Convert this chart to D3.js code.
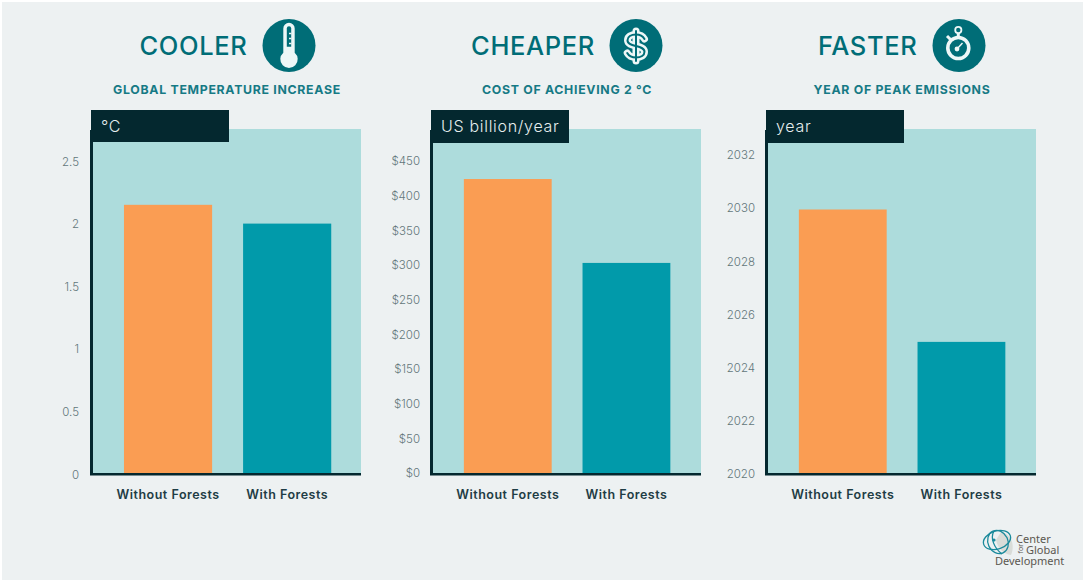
<!DOCTYPE html>
<html><head><meta charset="utf-8">
<script src="https://cdn.jsdelivr.net/npm/d3@7/dist/d3.min.js"></script>
<style>html,body{margin:0;padding:0;background:#fff}svg{display:block}
text{font-family:Inter,"Open Sans",sans-serif}</style></head><body>
<svg id="c" width="1083" height="581"></svg>
<script>
const categories = ["Without Forests", "With Forests"];
const barColors = ["#fa9d53", "#019aaa"];
const titles = ["COOLER", "CHEAPER", "FASTER"];
const subtitles = ["GLOBAL TEMPERATURE INCREASE", "COST OF ACHIEVING 2 °C", "YEAR OF PEAK EMISSIONS"];
const units = ["°C", "US billion/year", "year"];
const temperatureValues = [2.15, 2.0];
const costValues = [424, 303];
const yearValues = [2029.95, 2024.97];
const temperatureTicks = [0, 0.5, 1, 1.5, 2, 2.5];
const costTicks = [0, 50, 100, 150, 200, 250, 300, 350, 400, 450];
const yearTicks = [2020, 2022, 2024, 2026, 2028, 2030, 2032];

const svg = d3.select("#c");
svg.append("rect").attr("x", 2).attr("y", 2).attr("width", 1081).attr("height", 578).attr("fill", "#edf1f2");

const DARK = "#04282f", TEAL = "#006d77", SUB = "#167a85", PLOT = "#addcdc", ICON = "#edf7f7";

function panel(o) {
  const g = svg.append("g");
  const top = 129, bottom = 473.5;
  const y = d3.scaleLinear().domain(o.domain).range([o.y0, o.y1]);
  const x = d3.scaleBand().domain(categories).range([o.left, o.left + o.bandW]).paddingInner(0.26).paddingOuter(0.255).align(0.51);
  g.append("rect").attr("x", o.left).attr("y", top).attr("width", 268).attr("height", bottom - top).attr("fill", PLOT);
  g.selectAll("rect.bar").data(o.values).join("rect").attr("class", "bar")
    .attr("x", (d, i) => x(categories[i])).attr("width", x.bandwidth())
    .attr("y", d => y(d)).attr("height", d => bottom - y(d))
    .attr("fill", (d, i) => barColors[i]);
  // y axis
  const ya = g.append("g").attr("transform", `translate(${o.left - 2},${o.tickDy})`)
    .call(d3.axisLeft(y).tickValues(o.ticks).tickSize(0).tickPadding(o.pad).tickFormat(o.fmt));
  ya.select(".domain").remove();
  ya.selectAll("text").attr("fill", "#62767a").style("font-size", "11.5px").style("font-weight", 300)
    .style("font-family", "Inter,sans-serif");
  // axis lines
  g.append("line").attr("x1", o.left - 1.5).attr("x2", o.left - 1.5).attr("y1", 130).attr("y2", 475).attr("stroke", DARK).attr("stroke-width", 3);
  g.append("line").attr("x1", o.left - 3).attr("x2", o.left + 268).attr("y1", 474.2).attr("y2", 474.2).attr("stroke", DARK).attr("stroke-width", 2.5);
  // x axis
  const xa = g.append("g").attr("transform", "translate(0,475)").call(d3.axisBottom(x).tickSize(0).tickPadding(15));
  xa.select(".domain").remove();
  xa.selectAll("text").attr("fill", "#1f3d45").style("font-size", "12.5px").style("font-weight", 600)
    .style("font-family", "Inter,sans-serif").style("letter-spacing", "0.5px");
  // unit box
  g.append("rect").attr("x", o.left - 2).attr("y", 110).attr("width", 138).attr("height", o.boxH).attr("fill", DARK);
  g.append("text").attr("x", o.left + 8).attr("y", 132).attr("fill", "#e6eeee").style("font-size", "16px").style("font-weight", 300).style("letter-spacing", "0.7px").text(o.unit);
  // headings
  g.append("text").attr("x", o.titleEnd).attr("y", 54.5).attr("text-anchor", "end").attr("fill", TEAL)
    .style("font-size", "25.5px").style("font-weight", 500).style("letter-spacing", "0.65px").text(o.title);
  g.append("text").attr("x", o.subX).attr("y", 94).attr("text-anchor", "middle").attr("fill", SUB)
    .style("font-size", "12.3px").style("font-weight", 700).style("letter-spacing", "0.7px").text(o.sub);
  // icon
  const ic = g.append("g").attr("transform", `translate(${o.iconX},45.5)`);
  ic.append("circle").attr("r", 26.5).attr("fill", TEAL);
  o.icon(ic);
}

function thermometer(s) {
  s.append("path").attr("d", "M-5.7,-17 a5.7,5.7 0 0 1 11.4,0 V7.2 a8.7,8.7 0 1 1 -11.4,0 Z").attr("fill", ICON);
  s.append("path").attr("d", "M-2.2,-17 a2.2,2.2 0 0 1 4.4,0 V1.2 H-2.2 Z").attr("fill", TEAL);
  s.append("path").attr("d", "M2.4,-12 h-2.4 M2.4,-7 h-2.4 M2.4,-2 h-2.4").attr("stroke", ICON).attr("stroke-width", 1.4);
}
function dollar(s) {
  const S = "M8.5,-6.5 C6.5,-10 3,-11 0,-11 C-5,-11 -8.5,-8.8 -8.5,-5.3 C-8.5,-1.5 -4,-0.5 0,0.5 C4,1.5 8.5,2.6 8.5,6.3 C8.5,9.8 5,12 0,12 C-3,12 -6.8,11 -8.8,7.5";
  s.append("path").attr("d", S).attr("fill", "none").attr("stroke", ICON).attr("stroke-width", 7).attr("stroke-linecap", "round");
  s.append("path").attr("d", "M0,-14.5 V15.5").attr("stroke", ICON).attr("stroke-width", 7).attr("stroke-linecap", "round");
  s.append("path").attr("d", S).attr("fill", "none").attr("stroke", TEAL).attr("stroke-width", 2).attr("stroke-linecap", "round");
  s.append("path").attr("d", "M0,-14.5 V15.5").attr("stroke", TEAL).attr("stroke-width", 2).attr("stroke-linecap", "round");
}
function stopwatch(s) {
  s.append("circle").attr("cx", -0.7).attr("cy", 2.5).attr("r", 10.5).attr("fill", "none").attr("stroke", ICON).attr("stroke-width", 3.6);
  s.append("circle").attr("cx", -0.7).attr("cy", -15.5).attr("r", 3.1).attr("fill", "none").attr("stroke", ICON).attr("stroke-width", 1.8);
  s.append("line").attr("x1", -0.7).attr("x2", -0.7).attr("y1", -12.5).attr("y2", -8).attr("stroke", ICON).attr("stroke-width", 3);
  s.append("line").attr("x1", -12).attr("y1", -9.5).attr("x2", -8.5).attr("y2", -6).attr("stroke", ICON).attr("stroke-width", 3);
  s.append("circle").attr("cx", -2).attr("cy", 3.5).attr("r", 2.4).attr("fill", ICON);
  s.append("line").attr("x1", -2).attr("y1", 3.5).attr("x2", 3.5).attr("y2", -2.5).attr("stroke", ICON).attr("stroke-width", 1.5);
}

panel({ left: 93, bandW: 268, tickDy: 0.5, domain: [0, 2.5], y0: 474, y1: 161, values: temperatureValues, ticks: temperatureTicks, fmt: d => String(d), pad: 12, unit: units[0], title: titles[0], titleEnd: 247.5, sub: subtitles[0], subX: 227, iconX: 289, icon: thermometer, boxH: 32 });
panel({ left: 433, bandW: 267, tickDy: 0, domain: [0, 450], y0: 473, y1: 161, values: costValues, ticks: costTicks, fmt: d => "$" + d, pad: 11, unit: units[1], title: titles[1], titleEnd: 595, sub: subtitles[1], subX: 567, iconX: 636, icon: dollar, boxH: 33 });
panel({ left: 768, bandW: 267, tickDy: 0, domain: [2020, 2032], y0: 474, y1: 155, values: yearValues, ticks: yearTicks, fmt: d => String(d), pad: 11, unit: units[2], title: titles[2], titleEnd: 917.5, sub: subtitles[2], subX: 902, iconX: 959, icon: stopwatch, boxH: 33 });

// logo
const logo = svg.append("g");
logo.append("path").attr("d", "M1001,532 C1012,534 1015,546 1011,555 C1004,554 998,549 996,540 Z").attr("fill", "#d9dcd8");
const lg = logo.append("g").attr("fill", "none").attr("stroke", "#1b8a9b").attr("stroke-width", 1.3);
lg.append("ellipse").attr("cx", 997).attr("cy", 540).attr("rx", 14).attr("ry", 9).attr("transform", "rotate(-18 997 540)");
lg.append("ellipse").attr("cx", 998).attr("cy", 542).attr("rx", 10).attr("ry", 12).attr("transform", "rotate(-25 998 542)");
lg.append("path").attr("d", "M994,531 C990,538 994,548 1002,554");
logo.append("circle").attr("cx", 994).attr("cy", 540).attr("r", 1.6).attr("fill", "#1b8a9b");
const logoText = [["Center", 1016, 543], ["Global", 1026, 553.5], ["Development", 995, 565]];
logo.selectAll("text.l").data(logoText).join("text").attr("class", "l")
  .attr("x", d => d[1]).attr("y", d => d[2]).attr("fill", "#5b5750")
  .style("font-family", "'Noto Sans',sans-serif").style("font-size", "11px").text(d => d[0]);
logo.append("text").attr("transform", "translate(1023,553.5) rotate(-90)").attr("fill", "#5b5750")
  .style("font-family", "'Noto Sans',sans-serif").style("font-size", "7px").text("for");
</script></body></html>
